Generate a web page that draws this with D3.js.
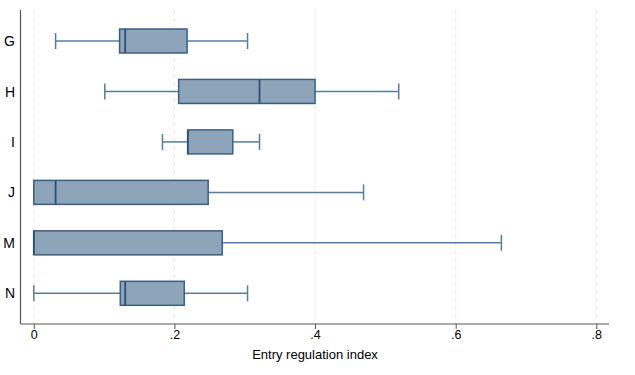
<!DOCTYPE html>
<html><head><meta charset="utf-8">
<script src="https://cdn.jsdelivr.net/npm/d3@7"></script>
<style>body{margin:0;background:#fff}svg{display:block}text{font-family:"Liberation Sans",Arial,sans-serif}</style>
</head><body><svg id="c" width="635" height="375"></svg>
<script>
const categories = ["G","H","I","J","M","N"];
const whiskerLow  = [0.031, 0.101, 0.183, 0.000, 0.000, 0.000];
const q1          = [0.122, 0.206, 0.219, 0.000, 0.000, 0.123];
const medians     = [0.130, 0.321, 0.219, 0.031, 0.000, 0.130];
const q3          = [0.218, 0.400, 0.283, 0.248, 0.268, 0.214];
const whiskerHigh = [0.304, 0.519, 0.321, 0.469, 0.665, 0.304];
const xTicks = [0, 0.2, 0.4, 0.6, 0.8];
const xTickLabels = ["0", ".2", ".4", ".6", ".8"];

const svg = d3.select("#c");
const x = d3.scaleLinear().domain([0, 0.8]).range([33.8, 596.3]);
const y = d3.scalePoint().domain(categories).range([41, 293.3]);
const plotTop = 10, plotBottom = 324, axisLeft = 20.5, axisRight = 609;

// gridlines
svg.append("g").selectAll("line").data(xTicks).join("line")
  .attr("x1", d => x(d)).attr("x2", d => x(d))
  .attr("y1", plotTop).attr("y2", plotBottom)
  .attr("stroke", "#e6e6e6").attr("stroke-width", 1).attr("stroke-dasharray", "4,4");

const data = categories.map((c, i) => ({c, lo: whiskerLow[i], q1: q1[i], md: medians[i], q3: q3[i], hi: whiskerHigh[i]}));
const boxH = 24, capH = 16;
const g = svg.append("g");
const wc = "#587c9e";
data.forEach(d => {
  const cy = y(d.c);
  g.append("line").attr("x1", x(d.lo)).attr("x2", x(d.q1)).attr("y1", cy).attr("y2", cy).attr("stroke", wc).attr("stroke-width", 1.5);
  g.append("line").attr("x1", x(d.q3)).attr("x2", x(d.hi)).attr("y1", cy).attr("y2", cy).attr("stroke", wc).attr("stroke-width", 1.5);
  g.append("line").attr("x1", x(d.lo)).attr("x2", x(d.lo)).attr("y1", cy - capH/2).attr("y2", cy + capH/2).attr("stroke", wc).attr("stroke-width", 1.5);
  g.append("line").attr("x1", x(d.hi)).attr("x2", x(d.hi)).attr("y1", cy - capH/2).attr("y2", cy + capH/2).attr("stroke", wc).attr("stroke-width", 1.5);
  g.append("rect").attr("x", x(d.q1)).attr("width", x(d.q3) - x(d.q1))
    .attr("y", cy - boxH/2).attr("height", boxH)
    .attr("fill", "#8ea4b9").attr("stroke", "#3a5f86").attr("stroke-width", 1.5);
  g.append("line").attr("x1", x(d.md)).attr("x2", x(d.md)).attr("y1", cy - boxH/2).attr("y2", cy + boxH/2)
    .attr("stroke", "#2a4f78").attr("stroke-width", 1.8);
});

svg.append("line").attr("x1", axisLeft).attr("x2", axisLeft).attr("y1", plotTop).attr("y2", plotBottom).attr("stroke", "#555").attr("stroke-width", 1.2);
const xa = d3.axisBottom(x).tickValues(xTicks).tickFormat((d, i) => xTickLabels[i]).tickSize(5).tickSizeOuter(0);
const xg = svg.append("g").attr("transform", `translate(0,${plotBottom})`).call(xa);
xg.select(".domain").remove();
xg.selectAll(".tick line").attr("stroke", "#555");
xg.selectAll(".tick text").attr("font-size", 12.5).attr("fill", "#000").attr("dy", "0.62em").attr("y", 7);
svg.append("line").attr("x1", axisLeft).attr("x2", axisRight).attr("y1", plotBottom).attr("y2", plotBottom).attr("stroke", "#555").attr("stroke-width", 1.2);

svg.append("g").selectAll("text").data(categories).join("text")
  .attr("x", 15).attr("y", d => y(d)).attr("dy", "0.36em").attr("text-anchor", "end")
  .attr("font-size", 14).attr("fill", "#000").text(d => d);

svg.append("text").attr("x", 315).attr("y", 359).attr("text-anchor", "middle").attr("font-size", 13).attr("fill", "#000").text("Entry regulation index");
</script></body></html>
